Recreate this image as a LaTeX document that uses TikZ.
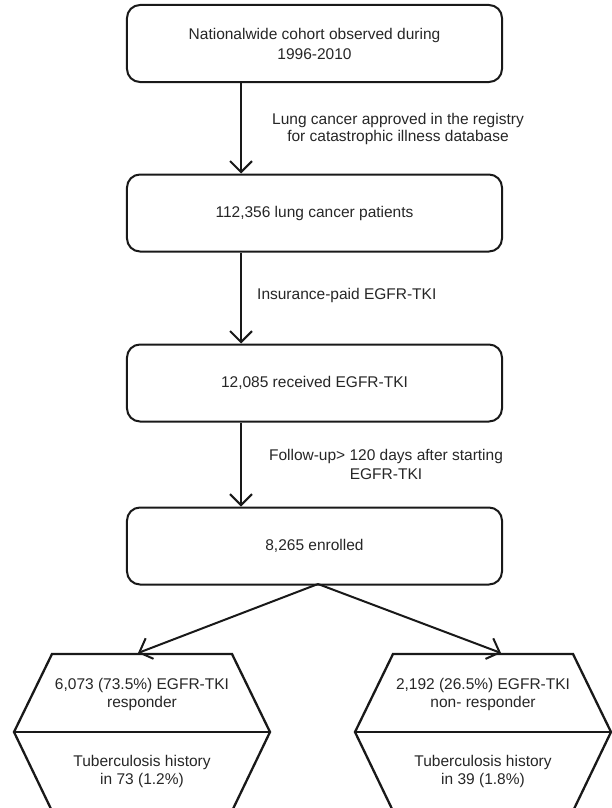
\documentclass[tikz,border=0pt]{standalone}
\usepackage{fontspec}
\setmainfont{Liberation Sans}
\usetikzlibrary{arrows.meta}
\begin{document}
\begin{tikzpicture}[x=1bp,y=-1bp,
  txt/.style={font=\fontsize{15.5bp}{18bp}\selectfont, align=center, inner sep=0pt, text=black!85},
  box/.style={txt, draw=black!90, line width=2bp, rounded corners=13bp,
              minimum width=375bp, minimum height=77bp},
  arr/.style={draw=black!90, line width=2bp, -{Straight Barb[length=11bp,width=22bp]}},
  hex/.style={draw=black!90, line width=2.3bp, line join=miter}]
\useasboundingbox (0,0) rectangle (612,808);
% boxes
\node[box, font=\fontsize{15.5bp}{20bp}\selectfont] (b1) at (314.5,43.5) {Nationalwide cohort observed during\\1996-2010};
\node[box] (b2) at (314.5,213) {112,356 lung cancer patients};
\node[box] (b3) at (314.5,383) {12,085 received EGFR-TKI};
\node[box] (b4) at (314.5,546) {8,265 enrolled};
% vertical arrows
\coordinate (ax) at (241,0);
\draw[arr] (b1.south -| ax) -- (b2.north -| ax);
\draw[arr] (b2.south -| ax) -- (b3.north -| ax);
\draw[arr] (b3.south -| ax) -- (b4.north -| ax);
% labels
\node[txt, font=\fontsize{15.5bp}{17bp}\selectfont] (l1) at (398,128.5) {Lung cancer approved in the registry\\for catastrophic illness database};
\node[txt, anchor=west] (l2) at (257,295) {Insurance-paid EGFR-TKI};
\node[txt, font=\fontsize{15.5bp}{19bp}\selectfont] (l3) at (386,464.5) {Follow-up> 120 days after starting\\EGFR-TKI};
% hexagons
\coordinate (h1tl) at (52,654);  \coordinate (h1tr) at (232,654);
\coordinate (h1mr) at (270,732); \coordinate (h1br) at (232,811);
\coordinate (h1bl) at (52,811);  \coordinate (h1ml) at (14,732);
\draw[hex] (h1tl) -- (h1tr) -- (h1mr) -- (h1br) -- (h1bl) -- (h1ml) -- cycle;
\draw[hex] (h1ml) -- (h1mr);
\coordinate (h2tl) at (393,654);  \coordinate (h2tr) at (573,654);
\coordinate (h2mr) at (611,732);  \coordinate (h2br) at (573,811);
\coordinate (h2bl) at (393,811);  \coordinate (h2ml) at (355,732);
\draw[hex] (h2tl) -- (h2tr) -- (h2mr) -- (h2br) -- (h2bl) -- (h2ml) -- cycle;
\draw[hex] (h2ml) -- (h2mr);
\node[txt] (r1) at (142,694) {6,073 (73.5\%) EGFR-TKI\\responder};
\node[txt] (r2) at (142,771) {Tuberculosis history\\in 73 (1.2\%)};
\node[txt] (n1) at (483,694) {2,192 (26.5\%) EGFR-TKI\\non- responder};
\node[txt] (n2) at (483,771) {Tuberculosis history\\in 39 (1.8\%)};
% split arrows
\coordinate (sp) at (318,584);
\coordinate (t1) at (138,653);
\coordinate (t2) at (501,653);
\draw[arr] (sp) -- (t1);
\draw[arr] (sp) -- (t2);
\end{tikzpicture}
\end{document}
